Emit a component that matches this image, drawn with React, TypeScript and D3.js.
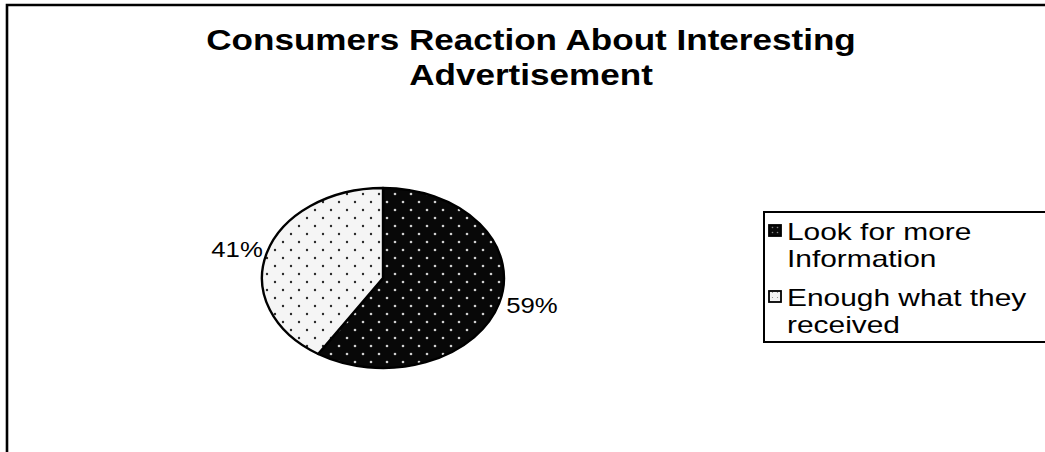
import React from "react";
import * as d3 from "d3";

const titleLines = ["Consumers Reaction About Interesting", "Advertisement"];
const categories = ["Look for more Information", "Enough what they received"];
const legendLines = [["Look for more", "Information"], ["Enough what they", "received"]];
const values = [59, 41];
const valueLabels = ["59%", "41%"];

const W = 1045;
const H = 452;

export default function App() {
  const cx = 383;
  const cy = 278;
  const rx = 121;
  const ry = 90;
  const s = ry / rx;

  const pie = d3.pie<number>().sort(null).value((d) => d);
  const arcs = pie(values);
  const arc = d3.arc<d3.PieArcDatum<number>>().innerRadius(0).outerRadius(rx);

  const fills = ["url(#darkDots)", "url(#lightDots)"];
  const legendFills = ["url(#darkDotsL)", "url(#lightDotsL)"];

  const sx = 1.17;

  return (
    <svg
      width={W}
      height={H}
      style={{ position: "fixed", left: 0, top: 0, background: "#fff" }}
      fontFamily="'Liberation Sans', Arial, sans-serif"
    >
      <defs>
        <pattern id="darkDots" width={16} height={16} patternUnits="userSpaceOnUse" patternTransform={`scale(1, ${1 / s})`}>
          <rect width={16} height={16} fill="#080808" />
          <circle cx={4} cy={4} r={1.3} fill="#d0d0d0" />
          <circle cx={12} cy={12} r={1.3} fill="#d0d0d0" />
        </pattern>
        <pattern id="lightDots" width={16} height={16} patternUnits="userSpaceOnUse" patternTransform={`scale(1, ${1 / s})`}>
          <rect width={16} height={16} fill="#f5f5f5" />
          <circle cx={4} cy={4} r={1.2} fill="#2a2a2a" />
          <circle cx={12} cy={12} r={1.2} fill="#2a2a2a" />
        </pattern>
        <pattern id="darkDotsL" width={5} height={5} patternUnits="userSpaceOnUse">
          <rect width={5} height={5} fill="#0a0a0a" />
          <circle cx={2.5} cy={2.5} r={0.8} fill="#888" />
        </pattern>
        <pattern id="lightDotsL" width={5} height={5} patternUnits="userSpaceOnUse">
          <rect width={5} height={5} fill="#f4f4f4" />
          <circle cx={2.5} cy={2.5} r={0.6} fill="#888" />
        </pattern>
      </defs>

      <rect x={0} y={0} width={W} height={H} fill="#fff" />
      {/* outer frame */}
      <path d={`M7,${H} L7,5 L${W},5`} fill="none" stroke="#000" strokeWidth={2.6} />

      {/* title */}
      {titleLines.map((t, i) => (
        <text
          key={t}
          transform={`translate(531, ${50 + i * 35}) scale(${sx}, 1)`}
          textAnchor="middle"
          fontWeight="bold"
          fontSize={30}
          fill="#000"
        >
          {t}
        </text>
      ))}

      {/* pie */}
      <g transform={`translate(${cx}, ${cy}) scale(1, ${s})`}>
        {arcs.map((a, i) => (
          <path
            key={categories[i]}
            d={arc(a) || ""}
            fill={fills[i]}
            stroke="#000"
            strokeWidth={2.4}
            vectorEffect="non-scaling-stroke"
            strokeLinejoin="round"
          />
        ))}
      </g>

      {/* value labels */}
      {arcs.map((a, i) => {
        const mid = (a.startAngle + a.endAngle) / 2;
        const k = 1.06;
        const x = cx + Math.sin(mid) * rx * k;
        const y = cy - Math.cos(mid) * ry * k + 8;
        const right = Math.sin(mid) > 0;
        return (
          <text
            key={valueLabels[i]}
            transform={`translate(${x + (right ? 0 : 3)}, ${y - (right ? 0 : 2)}) scale(1.12, 1)`}
            textAnchor={right ? "start" : "end"}
            fontSize={23}
            fill="#000"
          >
            {valueLabels[i]}
          </text>
        );
      })}

      {/* legend */}
      <rect x={764} y={212} width={W} height={130} fill="#fff" stroke="#000" strokeWidth={2} />
      {legendLines.map((lines, i) => {
        const y0 = 225 + i * 66;
        return (
          <g key={categories[i]}>
            <rect x={769} y={y0} width={12} height={11} fill={legendFills[i]} stroke="#000" strokeWidth={1.8} />
            {lines.map((l, j) => (
              <text
                key={l}
                transform={`translate(787, ${y0 + 15 + j * 27}) scale(1.3, 1)`}
                fontSize={23}
                fill="#000"
              >
                {l}
              </text>
            ))}
          </g>
        );
      })}
    </svg>
  );
}
